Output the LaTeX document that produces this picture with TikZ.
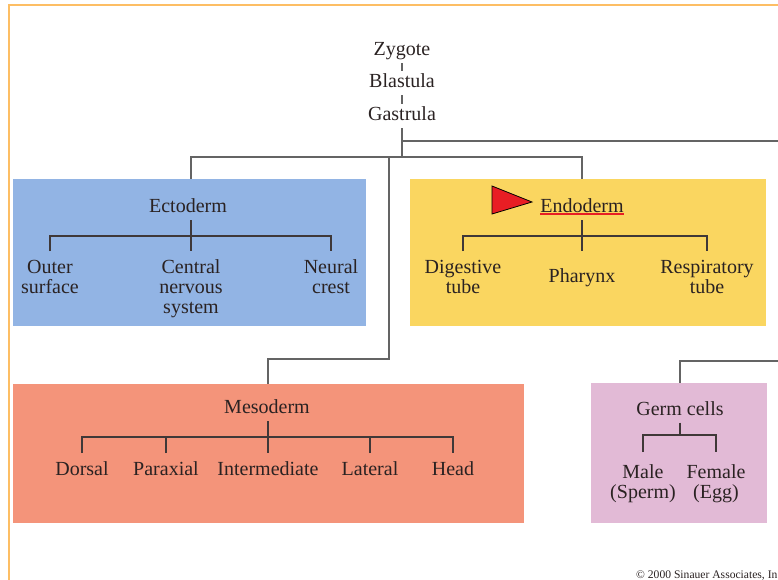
\documentclass[tikz,border=0pt]{standalone}
\usepackage{fontspec}
\setmainfont{Liberation Serif}
\usepackage{tikz}

\definecolor{ectoblue}{RGB}{146,180,228}
\definecolor{endoyellow}{RGB}{250,214,96}
\definecolor{mesosalmon}{RGB}{244,148,122}
\definecolor{germpink}{RGB}{226,186,214}
\definecolor{framegold}{RGB}{253,190,100}
\definecolor{linkgray}{RGB}{100,100,100}
\definecolor{inkdark}{RGB}{42,34,34}
\definecolor{markred}{RGB}{232,30,36}

\begin{document}
\begin{tikzpicture}[
x=1pt, y=-1pt,
stage/.style={font=\fontsize{20}{20}\selectfont, text=inkdark, anchor=base, inner sep=0pt, text height=13.5pt, text depth=4pt, outer ysep=3.5pt},
leaf/.style={font=\fontsize{20}{20}\selectfont, text=inkdark, anchor=north, align=center, inner sep=0pt, outer ysep=9pt},
layer/.style={inner sep=0pt, outer sep=0pt},
link/.style={draw=linkgray, line width=1.2pt},
branch/.style={draw=inkdark!90, line width=1.2pt} ]

\useasboundingbox (0,0) rectangle (778,580);

\draw[framegold, line width=2pt] (8.5,580) -- (8.5,5) -- (778,5);

\node[layer, fill=ectoblue, minimum width=353pt, minimum height=147pt] (ectobox) at (189.5,252.5) {};

\node[layer, fill=endoyellow, minimum width=356pt, minimum height=147pt] (endobox) at (588,252.5) {};

\node[layer, fill=mesosalmon, minimum width=511pt, minimum height=139pt] (mesobox) at (268.5,453) {};

\node[layer, fill=germpink, minimum width=176pt, minimum height=140pt] (germbox) at (679,453) {};

\node[stage] (zygote) at (402,56) {Zygote};

\node[stage] (blastula) at (402,88) {Blastula};

\node[stage] (gastrula) at (402,121) {Gastrula};

\node[stage] (ecto) at (188,212.5) {Ectoderm};

\node[stage] (endo) at (582,212.5) {Endoderm};

\node[stage] (meso) at (267,413.5) {Mesoderm};

\node[stage] (germ) at (680,415) {Germ cells};

\node[leaf] (outer) at (50,251) {Outer\\surface};

\node[leaf] (cns) at (191,251) {Central\\nervous\\system};

\node[leaf] (neural) at (331,251) {Neural\\crest};

\node[leaf] (digest) at (463,251) {Digestive\\tube};

\node[leaf, outer ysep=18pt] (pharynx) at (582,251) {Pharynx};

\node[leaf] (resp) at (707,251) {Respiratory\\tube};

\node[leaf] (dorsal) at (82,453) {Dorsal};

\node[leaf] (paraxial) at (166,453) {Paraxial};

\node[leaf] (interm) at (268,453) {Intermediate};

\node[leaf] (lateral) at (370,453) {Lateral};

\node[leaf] (head) at (453,453) {Head};

\node[leaf, outer ysep=13pt] (male) at (643,452) {Male\\(Sperm)};

\node[leaf, outer ysep=13pt] (female) at (716,452) {Female\\(Egg)};

\node[font=\fontsize{11.6}{12}\selectfont, text=inkdark, anchor=base west, inner sep=0pt] (credit) at (636,578) {© 2000 Sinauer Associates, In};

\coordinate (split) at (402,157);
\coordinate (mesotap) at (389,157);
\coordinate (mesoturn) at (389,359);
\coordinate (eastgap) at (778,141);
\coordinate (germtap) at (778,361);
\coordinate (ectobar) at (191,236);
\coordinate (endobar) at (582,236);
\coordinate (mesobar) at (268,437);
\coordinate (germbar) at (680,435);

\draw[link] (zygote) -- (blastula);
\draw[link] (blastula) -- (gastrula);
\draw[link] (gastrula) -- (split);
\draw[link] (gastrula |- eastgap) -- (eastgap);
\draw[link] (ectobox.north -| cns) |- (split) -| (endobox.north -| pharynx);
\draw[link] (mesotap) -- (mesoturn) -| (mesobox.north -| interm);
\draw[link] (germtap) -| (germbox.north -| germ);

\draw[branch] (ecto.south -| cns) -- (cns);
\draw[branch] (outer) |- (ectobar) -| (neural);
\draw[branch] (endo) -- (pharynx);
\draw[branch] (digest) |- (endobar) -| (resp);
\draw[branch] (meso.south -| interm) -- (interm);
\draw[branch] (dorsal) |- (mesobar) -| (head);
\draw[branch] (paraxial) -- (paraxial |- mesobar);
\draw[branch] (lateral) -- (lateral |- mesobar);
\draw[branch] (germ) -- (germbar);
\draw[branch] (male) |- (germbar) -| (female);

\draw[markred, line width=1.5pt] ([yshift=-1.5pt]endo.base west) -- ([yshift=-1.5pt]endo.base east);
\draw[fill=markred, draw=black, line width=0.8pt] (492,186) -- (532,202) -- (492,214) -- cycle;

\end{tikzpicture}
\end{document}
